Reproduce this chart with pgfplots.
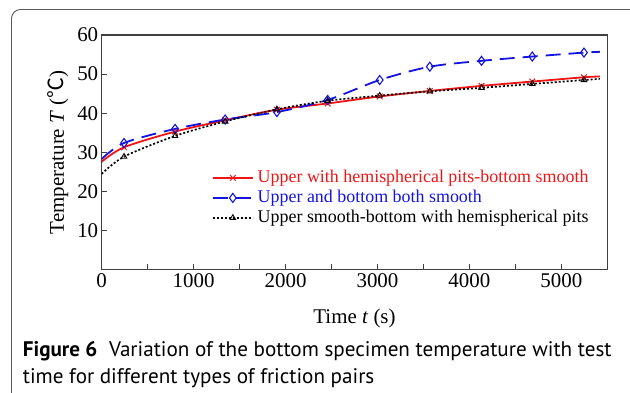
\documentclass[border=0pt]{standalone}
\usepackage{fontspec}
\setmainfont{Liberation Serif}
\newfontfamily\capfont{PT Sans}
\newfontfamily\cjk{Noto Sans CJK SC}
\usepackage{pgfplots}
\pgfplotsset{compat=1.18}
\definecolor{axgray}{RGB}{64,64,64}
\definecolor{framegray}{RGB}{90,90,90}
\definecolor{myred}{RGB}{240,20,20}
\definecolor{myblue}{RGB}{20,20,225}
\begin{document}
\begin{tikzpicture}[x=1bp,y=1bp]
\path[use as bounding box] (0,0) rectangle (630,-392);
\draw[framegray, line width=0.9bp, rounded corners=9bp] (11.5,-9.5) rectangle (660,-430);
\begin{axis}[
  at={(101.7bp,-269.7bp)}, anchor=south west,
  scale only axis, width=505.6bp, height=234.7bp,
  xmin=0, xmax=5500, ymin=0, ymax=60,
  xtick={0,1000,...,5000},
  minor xtick={500,1500,2500,3500,4500},
  ytick={10,20,...,60},
  xtick pos=left, ytick pos=left,
  tick align=inside,
  major tick length=5.5bp, minor tick length=5.5bp,
  axis line style={axgray, line width=1.1bp},
  every tick/.style={axgray, line width=0.9bp},
  scaled x ticks=false,
  /pgf/number format/assume math mode=true,
  xticklabel style={/pgf/number format/set thousands separator={}},
  tick label style={font=\fontsize{21}{25}\selectfont},
  label style={font=\fontsize{21}{25}\selectfont},
  xlabel={Time \textit{t} (s)},
  ylabel={Temperature \textit{T} ({\cjk ℃})},
  xlabel style={yshift=-15bp},
  ylabel style={yshift=2bp},
  legend style={at={(axis cs:1197,25.7)}, anchor=north west, draw=none, fill=none,
    inner sep=0pt, row sep=3bp,
    font=\fontsize{18}{21}\selectfont,
    nodes={inner sep=0pt, text height=13bp, text depth=4bp},
    /tikz/every odd column/.style={column sep=4bp}},
  legend cell align=left,
  legend image code/.code={\draw[#1,mark indices={2},line width=1.8bp] plot coordinates {(0bp,0bp) (20bp,0bp) (40bp,0bp)};},
]
\addplot[myred, line width=1.8bp, smooth, mark=x, mark size=4bp, mark indices={2,3,4,5,6,7,8,9,10,11},
  mark options={solid, line width=1bp}] coordinates {
(0,27.6) (243,31.3) (798,35.3) (1343,38.2) (1906,40.9) (2458,42.5) (3024,44.3) (3569,45.7) (4132,47.0) (4684,48.1) (5246,49.2) (5420,49.4)};
\addlegendentry{\textcolor{myred}{Upper with hemispherical pits-bottom smooth}}
\addplot[myblue, line width=1.8bp, smooth, dash pattern=on 15bp off 8bp, mark=diamond, mark size=4.5bp, mark indices={2,3,4,5,6,7,8,9,10,11},
  mark options={solid, line width=1.1bp, fill=white}] coordinates {
(0,28.3) (243,32.4) (798,36.0) (1343,38.4) (1906,40.3) (2458,43.4) (3024,48.5) (3569,51.9) (4132,53.4) (4684,54.5) (5246,55.5) (5420,55.7)};
\addlegendentry{\textcolor{myblue}{Upper and bottom both smooth}}
\addplot[black, line width=1.7bp, smooth, dash pattern=on 2bp off 2bp, mark=triangle, mark size=3.2bp, mark indices={2,3,4,5,6,7,8,9,10,11},
  mark options={solid, line width=0.9bp, fill=white}] coordinates {
(0,24.5) (243,28.9) (798,34.2) (1343,37.9) (1906,41.0) (2458,43.2) (3024,44.5) (3569,45.6) (4132,46.5) (4684,47.5) (5246,48.5) (5420,48.8)};
\addlegendentry{Upper smooth-bottom with hemispherical pits}
\end{axis}
\node[anchor=base west, inner sep=0pt, font=\capfont\fontsize{21.2}{25}\selectfont] at (22.7,-356)
  {\textbf{Figure 6}\hspace{0.55em}Variation of the bottom specimen temperature with test};
\node[anchor=base west, inner sep=0pt, font=\capfont\fontsize{21.2}{25}\selectfont] at (22.7,-383)
  {time for different types of friction pairs};
\end{tikzpicture}
\end{document}
